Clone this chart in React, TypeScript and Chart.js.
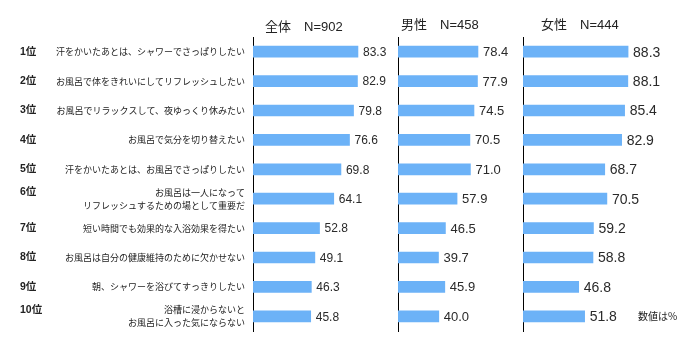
import React, { useEffect, useRef } from 'react';
import { Chart, registerables } from 'chart.js';
Chart.register(...registerables);

const ranks = ['1位', '2位', '3位', '4位', '5位', '6位', '7位', '8位', '9位', '10位'];
const categories: (string | string[])[] = [
  '汗をかいたあとは、シャワーでさっぱりしたい',
  'お風呂で体をきれいにしてリフレッシュしたい',
  'お風呂でリラックスして、夜ゆっくり休みたい',
  'お風呂で気分を切り替えたい',
  '汗をかいたあとは、お風呂でさっぱりしたい',
  ['お風呂は一人になって', 'リフレッシュするための場として重要だ'],
  '短い時間でも効果的な入浴効果を得たい',
  'お風呂は自分の健康維持のために欠かせない',
  '朝、シャワーを浴びてすっきりしたい',
  ['浴槽に浸からないと', 'お風呂に入った気にならない'],
];
const totalValues = [83.3, 82.9, 79.8, 76.6, 69.8, 64.1, 52.8, 49.1, 46.3, 45.8];
const maleValues = [78.4, 77.9, 74.5, 70.5, 71.0, 57.9, 46.5, 39.7, 45.9, 40.0];
const femaleValues = [88.3, 88.1, 85.4, 82.9, 68.7, 70.5, 59.2, 58.8, 46.8, 51.8];
const titles = ['全体　N=902', '男性　N=458', '女性　N=444'];
const unitNote = '数値は%';

const BAR_COLOR = 'rgb(108,178,247)';
const JP = "'Noto Sans CJK JP', sans-serif";
const LAT = "'Liberation Sans', 'Noto Sans CJK JP', sans-serif";

type PanelProps = {
  values: number[];
  showLabels: boolean;
  left: number;
  width: number;
  axisWidth: number;
  plotWidth: number;
  valueFontSize: number;
};

function Panel({ values, showLabels, left, width, axisWidth, plotWidth, valueFontSize }: PanelProps) {
  const ref = useRef<HTMLCanvasElement | null>(null);
  useEffect(() => {
    if (!ref.current) return;
    const valuePlugin = {
      id: 'valueLabels',
      afterDatasetsDraw(chart: any) {
        const ctx = chart.ctx;
        const meta = chart.getDatasetMeta(0);
        ctx.save();
        ctx.font = `${valueFontSize}px ${LAT}`;
        ctx.fillStyle = '#2a2a2a';
        ctx.textAlign = 'left';
        ctx.textBaseline = 'middle';
        meta.data.forEach((bar: any, i: number) => {
          ctx.fillText(values[i].toFixed(1), bar.x + 5, bar.y + 1);
        });
        ctx.restore();
      },
    };
    const rankPlugin = {
      id: 'rankLabels',
      afterDraw(chart: any) {
        if (!showLabels) return;
        const ctx = chart.ctx;
        const y = chart.scales.y;
        ctx.save();
        ctx.font = `bold 10.5px ${LAT}`;
        ctx.fillStyle = '#222';
        ctx.textAlign = 'left';
        ctx.textBaseline = 'middle';
        ranks.forEach((r, i) => {
          const lbl = categories[i];
          const py = y.getPixelForValue(i) - (Array.isArray(lbl) ? 6.5 : 0);
          ctx.fillText(r, 20, py);
        });
        ctx.restore();
      },
    };
    const chart = new Chart(ref.current, {
      type: 'bar',
      data: {
        labels: categories as any,
        datasets: [
          {
            data: values,
            backgroundColor: BAR_COLOR,
            barThickness: 11,
          },
        ],
      },
      options: {
        indexAxis: 'y',
        responsive: false,
        animation: false,
        devicePixelRatio: 1,
        layout: {
          padding: { top: 37, bottom: 19, left: 0, right: width - axisWidth - plotWidth },
        },
        plugins: { legend: { display: false }, tooltip: { enabled: false }, title: { display: false } },
        scales: {
          x: { display: false, min: 0, max: 100 },
          y: {
            grid: { display: false, drawTicks: false },
            border: { display: true, color: '#000', width: 1 },
            ticks: {
              display: showLabels,
              padding: 8,
              color: '#222',
              font: { family: JP, size: 9, lineHeight: 1.45 },
            },
            afterFit: (s: any) => {
              s.width = axisWidth;
            },
          },
        },
      },
      plugins: [valuePlugin, rankPlugin],
    });
    return () => chart.destroy();
  }, []);
  return (
    <canvas
      ref={ref}
      width={width}
      height={350}
      style={{ position: 'absolute', left, top: 0, width, height: 350 }}
    />
  );
}

export default function App() {
  const titleStyle = (left: number, top: number): React.CSSProperties => ({
    position: 'absolute',
    left,
    top,
    fontFamily: LAT,
    fontSize: 13,
    lineHeight: '14px',
    color: '#222',
    whiteSpace: 'pre',
  });
  return (
    <div style={{ position: 'absolute', left: 0, top: 0, width: 700, height: 350, background: '#fff', overflow: 'hidden' }}>
      <Panel values={totalValues} showLabels left={0} width={400} axisWidth={253} plotWidth={126} valueFontSize={12} />
      <Panel values={maleValues} showLabels={false} left={390} width={130} axisWidth={8} plotWidth={102} valueFontSize={13} />
      <Panel values={femaleValues} showLabels={false} left={515} width={175} axisWidth={8} plotWidth={119} valueFontSize={14} />
      <div style={titleStyle(265, 20)}>{titles[0]}</div>
      <div style={titleStyle(401, 18)}>{titles[1]}</div>
      <div style={titleStyle(541, 18)}>{titles[2]}</div>
      <div
        style={{
          position: 'absolute',
          left: 638,
          top: 310,
          fontFamily: JP,
          fontSize: 10,
          lineHeight: '12px',
          color: '#222',
        }}
      >
        {unitNote}
      </div>
    </div>
  );
}
